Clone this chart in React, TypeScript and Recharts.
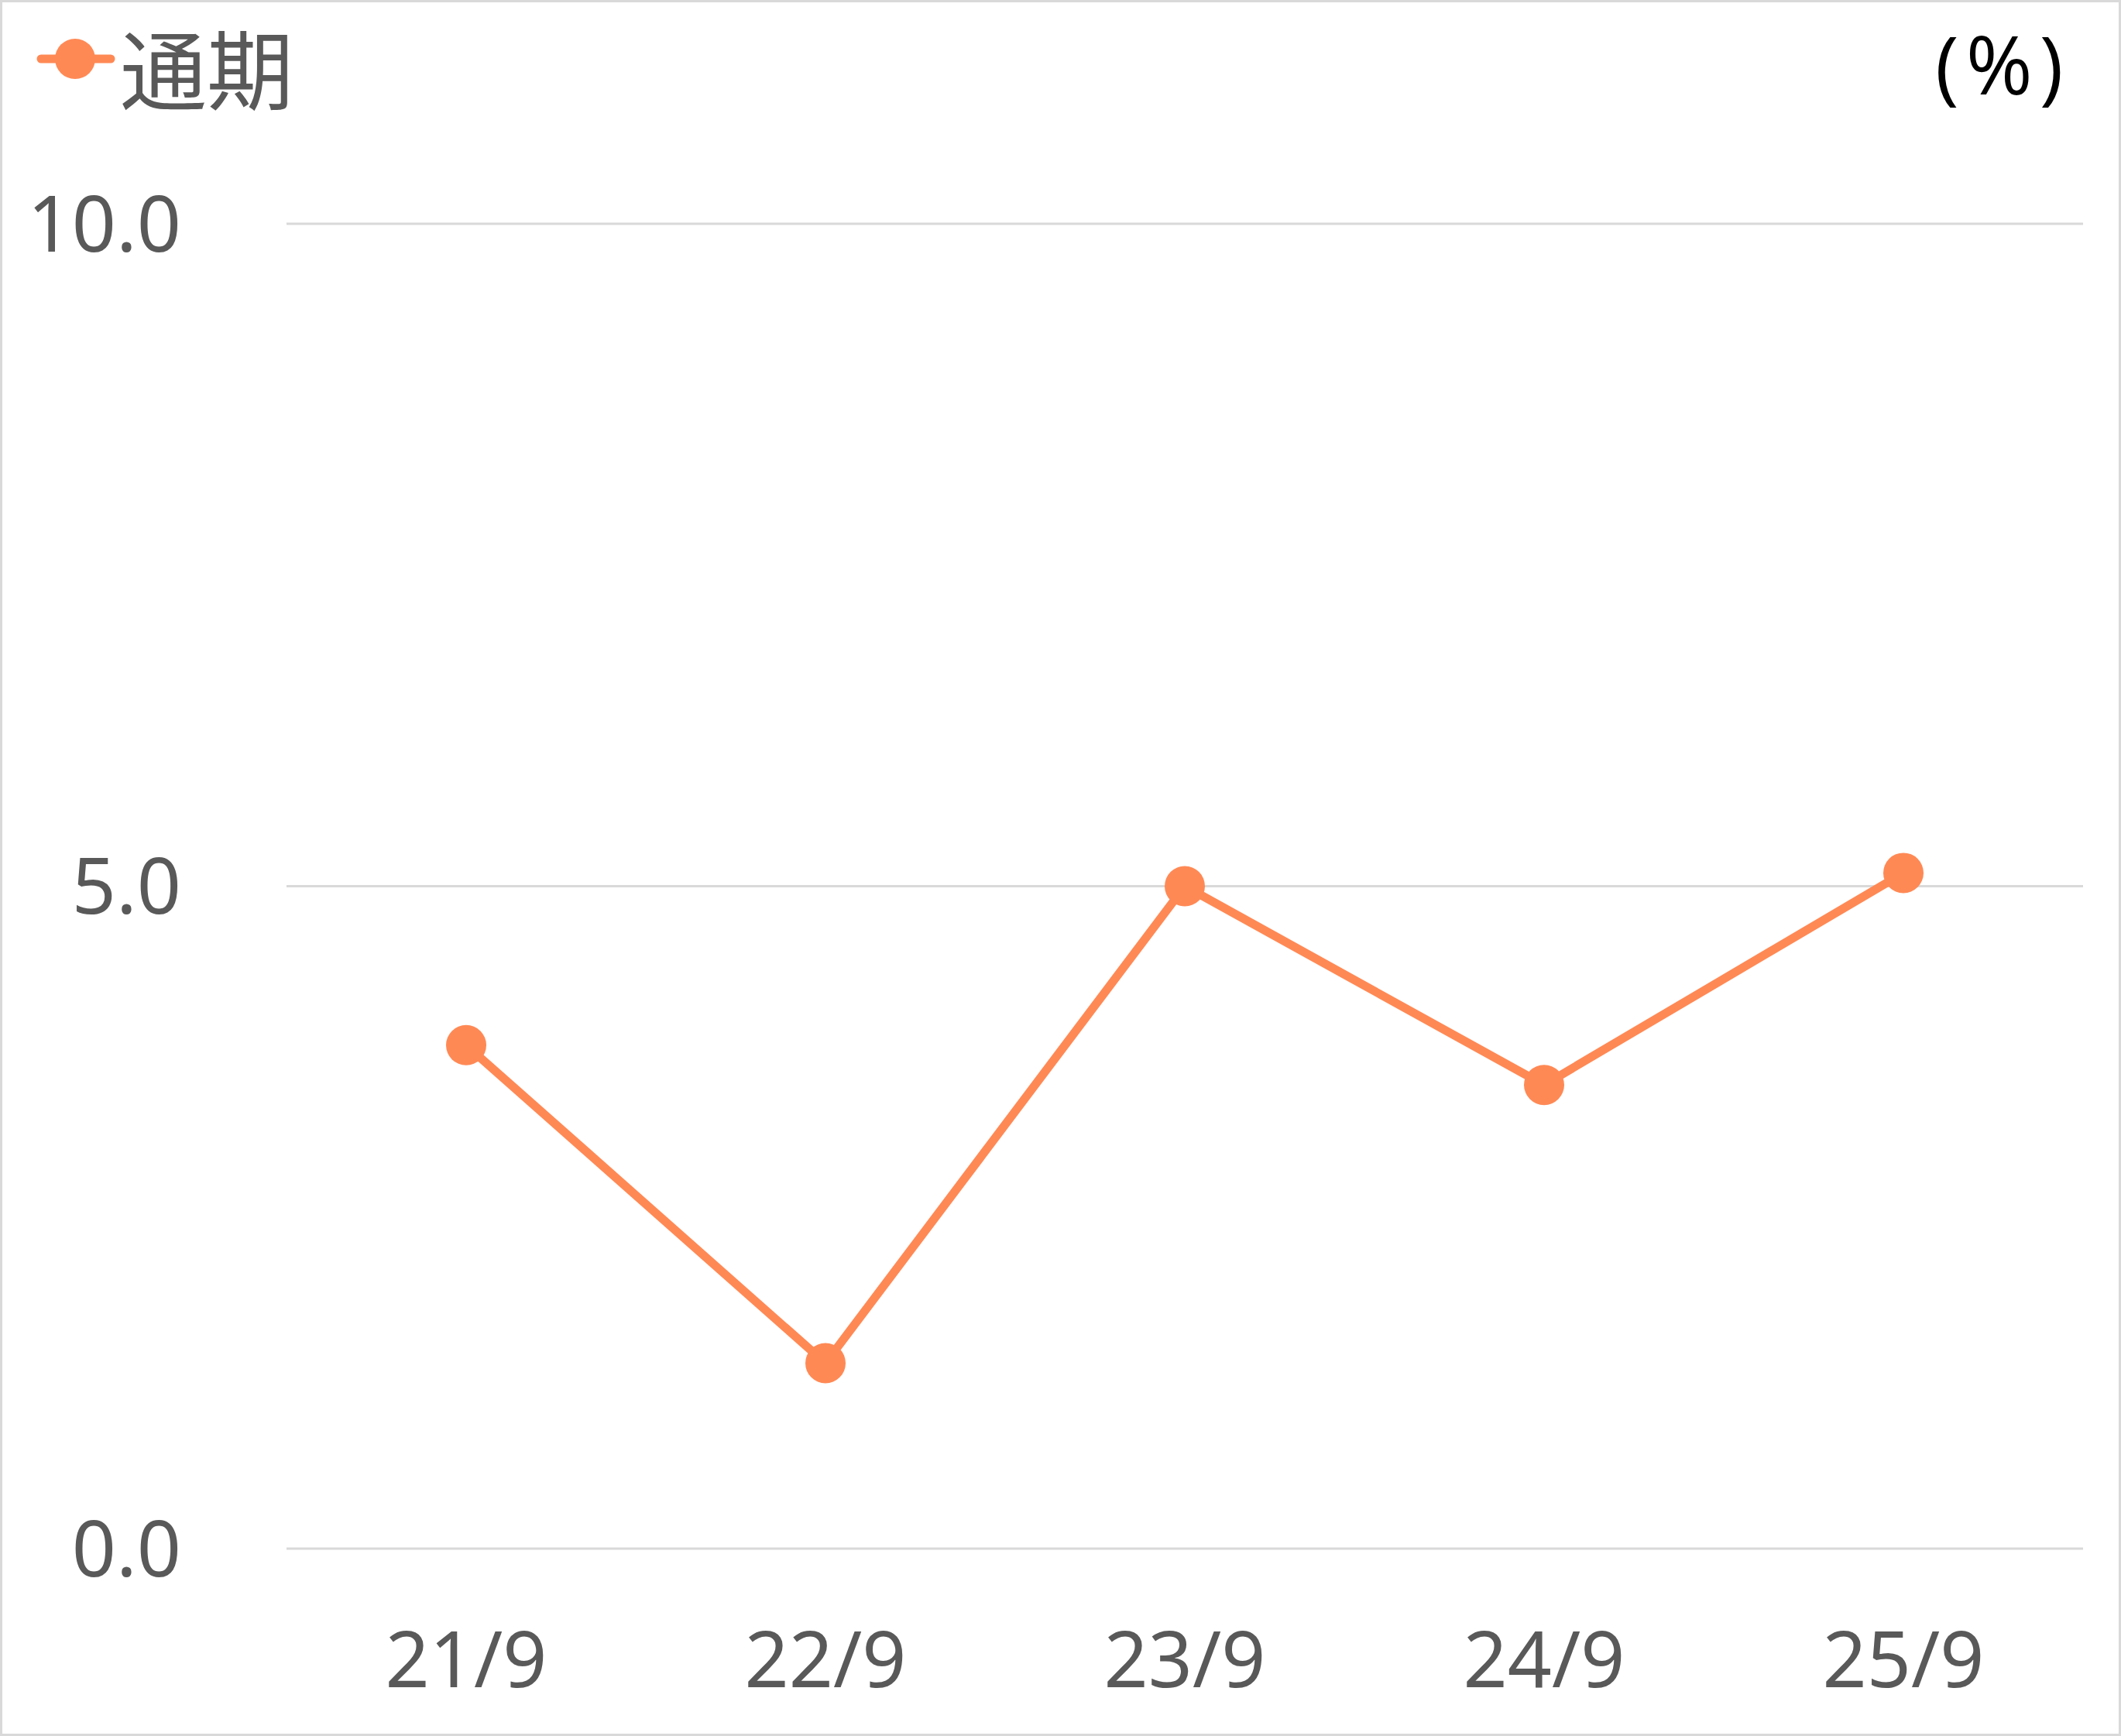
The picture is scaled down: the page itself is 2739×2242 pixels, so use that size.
import React from 'react';
import { LineChart, Line, XAxis, YAxis, CartesianGrid, Legend } from 'recharts';

const categories = ['21/9', '22/9', '23/9', '24/9', '25/9'];
const tsuki = [3.8, 1.4, 5.0, 3.5, 5.1];
const yTicks = [0, 5, 10];

const seriesName = '通期';
const unitLabel = '(%)';

const W = 2739;
const H = 2242;
const LEGEND_H = 180;
const orange = '#FF8955';
const grey = '#595959';

const data = categories.map((c, i) => ({ name: c, value: tsuki[i] }));

function LegendBox() {
  return (
    <svg width={W} height={LEGEND_H} style={{ display: 'block' }}>
      <line x1={50} y1={73} x2={140} y2={73} stroke={orange} strokeWidth={11} strokeLinecap="round" />
      <circle cx={94} cy={73} r={26} fill={orange} />
      <text
        x={152}
        y={131}
        fontSize={112}
        fill={grey}
        fontFamily='"Noto Sans CJK JP", "Noto Sans CJK SC", sans-serif'
      >
        {seriesName}
      </text>
      {/* unit label, top right */}
      <text
        x={2496}
        y={119}
        fontSize={104}
        fill="#000"
        letterSpacing={9}
        fontFamily='"Open Sans", "Noto Sans", sans-serif'
      >
        {unitLabel}
      </text>
    </svg>
  );
}

export default function App() {
  return (
    <div
      style={{
        position: 'absolute',
        left: 0,
        top: 0,
        width: W,
        height: H,
        background: '#fff',
        border: '3px solid #D9D9D9',
        boxSizing: 'border-box',
      }}
    >
      <div style={{ position: 'absolute', left: 0, top: 0 }}>
        <LineChart
          width={W}
          height={H}
          data={data}
          margin={{ top: 286 - LEGEND_H, right: 52, bottom: 0, left: 0 }}
        >
          <CartesianGrid vertical={false} stroke="#D9D9D9" strokeWidth={3} />
          <XAxis
            dataKey="name"
            height={245}
            axisLine={false}
            tickLine={false}
            tickSize={0}
            tickMargin={108}
            interval={0}
            padding={{ left: 232, right: 232 }}
            tick={{ fill: grey, fontSize: 100, fontFamily: '"Noto Sans", sans-serif' }}
          />
          <YAxis
            domain={[0, 10]}
            ticks={yTicks}
            width={367}
            axisLine={false}
            tickLine={false}
            tickSize={0}
            tickMargin={136}
            tickFormatter={(v: number) => v.toFixed(1)}
            tick={{ fill: grey, fontSize: 100, fontFamily: '"Noto Sans", sans-serif' }}
          />
          <Legend
            verticalAlign="top"
            content={() => <LegendBox />}
            wrapperStyle={{ position: 'absolute', left: 0, top: 0, width: W, height: LEGEND_H }}
          />
          <Line
            type="linear"
            dataKey="value"
            name={seriesName}
            stroke={orange}
            strokeWidth={11}
            dot={{ r: 26, fill: orange, stroke: orange, strokeWidth: 0 }}
            activeDot={false}
            isAnimationActive={false}
          />
        </LineChart>
      </div>
    </div>
  );
}
